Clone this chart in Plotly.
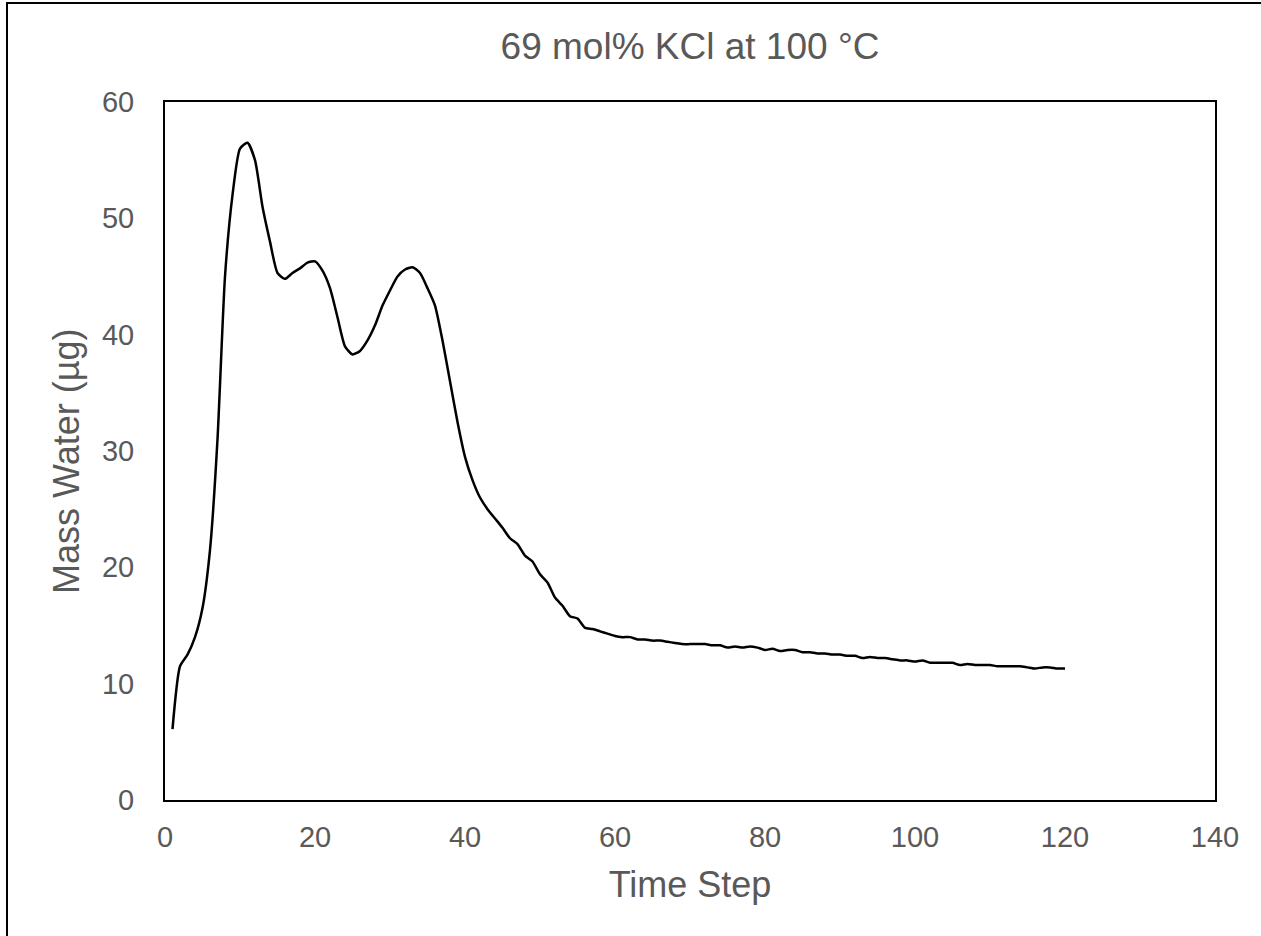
import plotly.graph_objects as go

time_step = list(range(1, 121))
mass_water = [
    6.1, 11.5, 12.5, 14.0, 16.5, 21.5, 31.0, 45.0, 52.0, 56.0,
    56.5, 55.0, 51.0, 48.0, 45.3, 44.8, 45.3, 45.7, 46.2, 46.3,
    45.5, 44.0, 41.5, 39.0, 38.3, 38.6, 39.5, 40.8, 42.5, 43.8,
    45.0, 45.6, 45.8, 45.3, 44.0, 42.5, 39.5, 36.0, 32.5, 29.5,
    27.5, 26.0, 25.0, 24.2, 23.4, 22.5, 22.0, 21.0, 20.5, 19.4,
    18.7, 17.4, 16.7, 15.8, 15.6, 14.8, 14.7, 14.5, 14.3, 14.1,
    14.0, 14.0, 13.8, 13.8, 13.7, 13.7, 13.6, 13.5, 13.4, 13.4,
    13.4, 13.4, 13.3, 13.3, 13.1, 13.2, 13.1, 13.2, 13.1, 12.9,
    13.0, 12.8, 12.9, 12.9, 12.7, 12.7, 12.6, 12.6, 12.5, 12.5,
    12.4, 12.4, 12.2, 12.3, 12.2, 12.2, 12.1, 12.0, 12.0, 11.9,
    12.0, 11.8, 11.8, 11.8, 11.8, 11.6, 11.7, 11.6, 11.6, 11.6,
    11.5, 11.5, 11.5, 11.5, 11.4, 11.3, 11.4, 11.4, 11.3, 11.3,
]

x_ticks = [0, 20, 40, 60, 80, 100, 120, 140]
y_ticks = [0, 10, 20, 30, 40, 50, 60]

title_text = "69 mol% KCl at 100 °C"
x_title = "Time Step"
y_title = "Mass Water (µg)"

grey = "#595959"
font_family = "Liberation Sans, Arial, sans-serif"

fig = go.Figure()
fig.add_trace(go.Scatter(
    x=time_step, y=mass_water, mode="lines",
    line=dict(color="black", width=2.5, shape="spline", smoothing=0.6),
    showlegend=False,
))

fig.update_layout(
    width=1261, height=936,
    margin=dict(l=165, r=46, t=102, b=136),
    paper_bgcolor="white", plot_bgcolor="white",
    font=dict(family=font_family, color=grey, size=29),
    title=dict(text=title_text, x=0.5, xanchor="center", xref="paper",
               y=1 - 46 / 936, yanchor="middle", yref="container",
               font=dict(size=37, color=grey, family=font_family)),
    showlegend=False,
)
fig.update_xaxes(
    range=[0, 140], tickvals=x_ticks,
    showgrid=False, zeroline=False,
    showline=True, linecolor="black", linewidth=2, mirror=True,
    ticks="", ticklabelstandoff=10,
    tickfont=dict(size=29, color=grey),
    title=dict(text=x_title, font=dict(size=36, color=grey), standoff=20),
)
fig.update_yaxes(
    range=[0, 60], tickvals=y_ticks,
    showgrid=False, zeroline=False,
    showline=True, linecolor="black", linewidth=2, mirror=True,
    ticks="", ticklabelstandoff=23,
    tickfont=dict(size=29, color=grey),
)

# y-axis title, placed as in the original (slightly below plot centre)
fig.add_annotation(text=y_title, textangle=-90, showarrow=False,
                   xref="paper", yref="paper",
                   x=(66 - 165) / 1050, y=(800 - 462) / 698,
                   xanchor="center", yanchor="middle",
                   font=dict(size=36, color=grey, family=font_family))

# outer chart-area border (cropped at right and bottom in the original)
fig.add_shape(type="rect", xref="paper", yref="paper",
              x0=(7 - 165) / 1050, x1=(1275 - 165) / 1050,
              y0=(800 - 950) / 698, y1=(800 - 3) / 698,
              line=dict(color="black", width=2), fillcolor="rgba(0,0,0,0)",
              layer="below")

fig.write_html("out.html")
